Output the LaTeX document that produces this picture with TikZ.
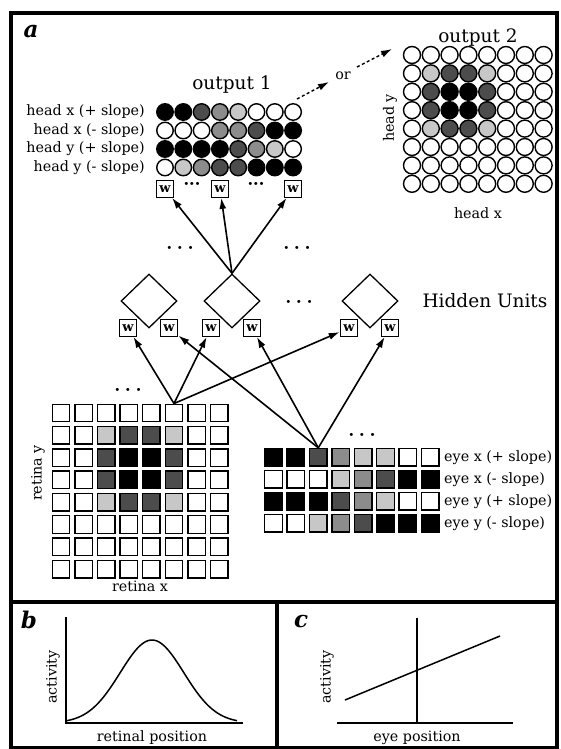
\documentclass[tikz,border=0pt]{standalone}
\usepackage{fontspec}
\setmainfont{DejaVu Serif}
\usetikzlibrary{arrows.meta,shapes.geometric}
\colorlet{cB}{black}
\colorlet{cD}{black!70}
\colorlet{cM}{black!45}
\colorlet{cL}{black!22}
\colorlet{cW}{white}
\begin{document}
\begin{tikzpicture}[x=1pt,y=-1pt,
  circ/.style={circle,draw,line width=1.4pt,minimum size=16.5pt,inner sep=0pt},
  sq/.style={rectangle,draw,line width=1.4pt,minimum size=17.5pt,inner sep=0pt},
  wbox/.style={rectangle,draw,line width=1.2pt,fill=white,minimum width=17.5pt,minimum height=16.5pt,inner sep=0pt,font=\fontsize{13}{13}\selectfont\bfseries},
  hid/.style={diamond,draw,line width=1.3pt,minimum width=56pt,minimum height=54pt,inner sep=0pt},
  conn/.style={line width=1.6pt,-{Latex[length=11pt,width=7pt]}},
  dconn/.style={line width=1.4pt,dash pattern=on 3pt off 2.5pt,-{Latex[length=11pt,width=7pt]}},
  lab/.style={font=\fontsize{14.3}{15}\selectfont,inner sep=0pt},
  big/.style={font=\fontsize{18.5}{19}\selectfont,inner sep=0pt},
  plab/.style={font=\fontsize{23}{23}\selectfont\bfseries\itshape,inner sep=0pt},
  dts/.style={font=\fontsize{16}{16}\selectfont\bfseries,inner sep=0pt},
  frame/.style={line width=3.2pt},
  axis/.style={line width=1.5pt}
]
\useasboundingbox (0,0) rectangle (560,749);
% frame and dividers
\draw[frame] (11,13) rectangle (557,748);
\draw[frame] (11,602) -- (557,602);
\draw[frame] (277,602) -- (277,748);
\node[plab] (pa) at (31,32) {a};
\node[plab] (pb) at (29,620) {b};
\node[plab] (pc) at (301,622) {c};

% output 1
\node[big] (out1) at (232,85) {output 1};
\foreach \rowv [count=\r] in {{B,B,D,M,L,W,W,W},{W,W,W,M,M,D,B,B},{B,B,B,B,D,M,L,W},{W,L,M,D,D,B,B,B}} {
  \foreach \f [count=\c] in \rowv {
    \node[circ,fill=c\f] (oa-\r-\c) at ({165+18.3*(\c-1)},{112+18.5*(\r-1)}) {};
  }
}
\node[lab,anchor=east] (hl1) at (145,112) {head x (+ slope)};
\node[lab,anchor=east] (hl2) at (145,130.5) {head x (- slope)};
\node[lab,anchor=east] (hl3) at (145,149) {head y (+ slope)};
\node[lab,anchor=east] (hl4) at (145,167.5) {head y (- slope)};
\node[wbox] (ow1) at (165,189) {w};
\node[wbox] (ow2) at (220,189) {w};
\node[wbox] (ow3) at (293,189) {w};
\node[dts] (od1) at (192,186) {···};
\node[dts] (od2) at (256,186) {···};

% output 2
\node[big] (out2) at (478,38) {output 2};
\foreach \rowv [count=\r] in {{W,W,W,W,W,W,W,W},{W,L,D,D,L,W,W,W},{W,D,B,B,D,W,W,W},{W,D,B,B,D,W,W,W},{W,L,D,D,L,W,W,W},{W,W,W,W,W,W,W,W},{W,W,W,W,W,W,W,W},{W,W,W,W,W,W,W,W}} {
  \foreach \f [count=\c] in \rowv {
    \node[circ,minimum size=17pt,fill=c\f] (ob-\r-\c) at ({412+18.8*(\c-1)},{55+18.4*(\r-1)}) {};
  }
}
\node[lab,rotate=90] (hy) at (390,118) {head y};
\node[lab] (hx) at (478,213) {head x};

% or arrows
\node[lab] (or) at (343,76) {or};
\coordinate (d1s) at (297,99);
\coordinate (d1e) at (329,82);
\coordinate (d2s) at (357,67);
\coordinate (d2e) at (392,49);
\draw[dconn] (d1s) -- (d1e);
\draw[dconn] (d2s) -- (d2e);

% hidden units
\node[hid] (h1) at (149,301) {};
\node[hid] (h2) at (232,301) {};
\node[hid] (h3) at (370,301) {};
\node[big] (hu) at (485,301) {Hidden Units};
\node[dts] (hd1) at (180,250) {·\hspace{5pt}·\hspace{5pt}·};
\node[dts] (hd2) at (297,250) {·\hspace{5pt}·\hspace{5pt}·};
\node[dts] (hd3) at (299,304) {·\hspace{5pt}·\hspace{5pt}·};
\node[wbox] (hw1) at (128,328) {w};
\node[wbox] (hw2) at (169,328) {w};
\node[wbox] (hw3) at (211,328) {w};
\node[wbox] (hw4) at (252,328) {w};
\node[wbox] (hw5) at (349,328) {w};
\node[wbox] (hw6) at (390,328) {w};

% retina grid
\foreach \rowv [count=\r] in {{W,W,W,W,W,W,W,W},{W,W,L,D,D,L,W,W},{W,W,D,B,B,D,W,W},{W,W,D,B,B,D,W,W},{W,W,L,D,D,L,W,W},{W,W,W,W,W,W,W,W},{W,W,W,W,W,W,W,W},{W,W,W,W,W,W,W,W}} {
  \foreach \f [count=\c] in \rowv {
    \node[sq,fill=c\f] (rt-\r-\c) at ({61+22.6*(\c-1)},{413+22.3*(\r-1)}) {};
  }
}
\node[dts] (rd) at (128,392) {·\hspace{5pt}·\hspace{5pt}·};
\node[lab,rotate=90] (ry) at (38,473) {retina y};
\node[lab] (rx) at (140,586) {retina x};

% eye grid
\foreach \rowv [count=\r] in {{B,B,D,M,L,L,W,W},{W,W,W,L,M,D,B,B},{B,B,B,D,M,L,W,W},{W,W,L,M,D,B,B,B}} {
  \foreach \f [count=\c] in \rowv {
    \node[sq,fill=c\f] (ey-\r-\c) at ({273.5+22.4*(\c-1)},{457.3+22*(\r-1)}) {};
  }
}
\node[dts] (ed) at (362,437) {·\hspace{5pt}·\hspace{5pt}·};
\node[lab,anchor=west] (el1) at (444,457.3) {eye x (+ slope)};
\node[lab,anchor=west] (el2) at (444,479.3) {eye x (- slope)};
\node[lab,anchor=west] (el3) at (444,501.3) {eye y (+ slope)};
\node[lab,anchor=west] (el4) at (444,523.3) {eye y (- slope)};

% connections
\draw[conn] (h2.north) -- (ow1);
\draw[conn] (h2.north) -- (ow2);
\draw[conn] (h2.north) -- (ow3);
\draw[conn] (rt-1-6.north) -- (hw1);
\draw[conn] (rt-1-6.north) -- (hw3);
\draw[conn] (rt-1-6.north) -- (hw5);
\draw[conn] (ey-1-3.north) -- (hw2);
\draw[conn] (ey-1-3.north) -- (hw4);
\draw[conn] (ey-1-3.north) -- (hw6);

% panel b
\draw[axis] (66,617) -- (66,723) -- (243,723);
\draw[axis] plot[domain=66:237,samples=80] (\x,{723-83*exp(-((\x-152)/45)^2)});
\node[lab,rotate=90] (bact) at (53,677) {activity};
\node[lab] (bpos) at (152,738) {retinal position};

% panel c
\draw[axis] (337,723) -- (513,723);
\draw[axis] (417,618) -- (417,723);
\draw[axis] (345,700) -- (500,636);
\node[lab,rotate=90] (cact) at (327,677) {activity};
\node[lab] (cpos) at (417,738) {eye position};
\end{tikzpicture}
\end{document}
